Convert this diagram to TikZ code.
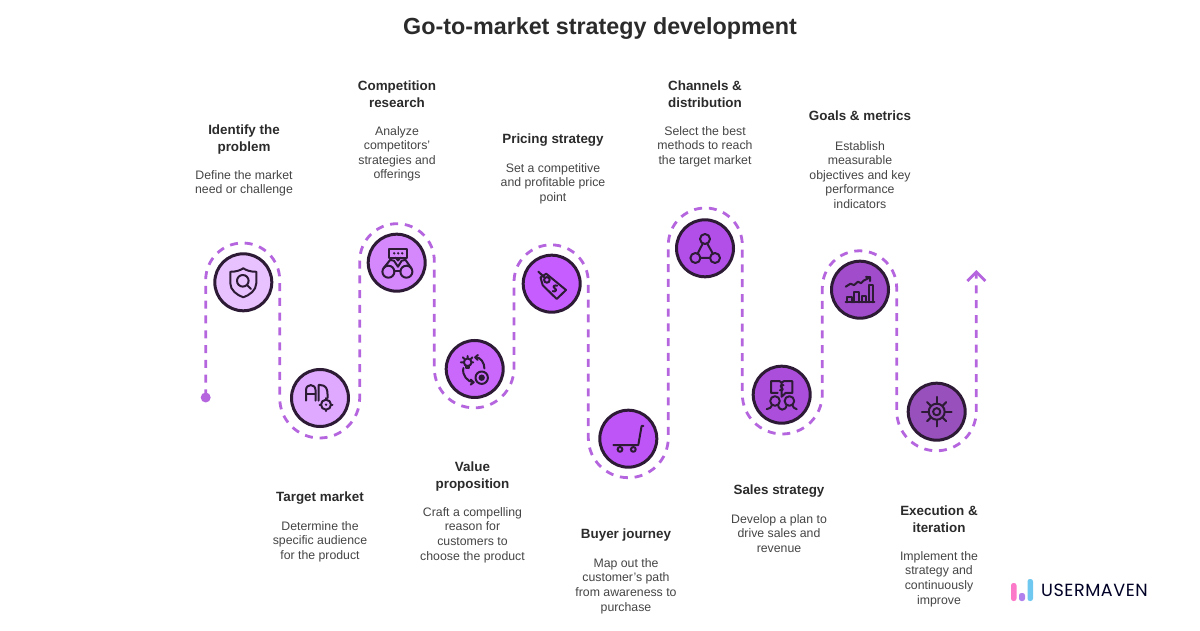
\documentclass[tikz,border=0pt]{standalone}
\usepackage{fontspec}
\setmainfont{Liberation Sans}
\newfontfamily\logofont[LetterSpace=3]{Poppins}
\definecolor{ink}{HTML}{2D1B36}
\definecolor{pathc}{HTML}{B566DE}
\definecolor{headc}{HTML}{2B2B2B}
\definecolor{bodyc}{HTML}{454545}
\definecolor{fa}{HTML}{E8C2FF}
\definecolor{fb}{HTML}{DEA9FF}
\definecolor{fc}{HTML}{D488FC}
\definecolor{fd}{HTML}{C968FB}
\definecolor{fe}{HTML}{C65EFF}
\definecolor{ff}{HTML}{BE55F6}
\definecolor{fg}{HTML}{B24FE8}
\definecolor{fh}{HTML}{AB4EDC}
\definecolor{fi}{HTML}{A04CCB}
\definecolor{fj}{HTML}{9850BC}
\tikzset{
  stop/.style={circle,draw=ink,line width=3pt,minimum size=57pt,inner sep=0pt},
  route/.style={draw=pathc,line width=2.8pt,dash pattern=on 8pt off 6.8pt},
  ic/.style={draw=ink,line width=2pt,line cap=round,line join=round},
  headt/.style={anchor=north,inner sep=0pt,align=center,text=headc,font=\fontsize{13.4}{17}\selectfont\bfseries},
  bodyt/.style={anchor=north,inner sep=0pt,align=center,text=bodyc,font=\fontsize{12.3}{14.6}\selectfont},
}
\newcommand\steptext[6]{%
  \node[headt] (h#1) at (#2pt,{(630-#3+11)*1pt}) {\rule{0pt}{11pt}#4};
  \node[bodyt] (b#1) at (#2pt,{(630-#5+11)*1pt}) {\rule{0pt}{11pt}#6};
}
\begin{document}
\begin{tikzpicture}[x=1pt,y=1pt]
\useasboundingbox (0,0) rectangle (1200,630);
\fill[white] (0,0) rectangle (1200,630);

\node[inner sep=0pt,text=headc,font=\fontsize{23.3}{28}\selectfont\bfseries] (title) at (600,601) {Go-to-market strategy development};

% route
\node[circle,fill=pathc,minimum size=10pt,inner sep=0pt] (start) at (205.7,232.5) {};
\coordinate (tip) at (976.3,358);
\draw[route] (start.center) -- (205.7,350) arc[start angle=180,end angle=0,radius=37pt]
  -- (279.7,232) arc[start angle=180,end angle=360,radius=40pt]
  -- (359.7,369) arc[start angle=180,end angle=0,radius=37.3pt]
  -- (434.3,262) arc[start angle=180,end angle=360,radius=39.85pt]
  -- (514,348) arc[start angle=180,end angle=0,radius=37.15pt]
  -- (588.3,192.3) arc[start angle=180,end angle=360,radius=40pt]
  -- (668.3,385) arc[start angle=180,end angle=0,radius=37pt]
  -- (742.3,236) arc[start angle=180,end angle=360,radius=40pt]
  -- (822.3,342) arc[start angle=180,end angle=0,radius=37.2pt]
  -- (896.7,219) arc[start angle=180,end angle=360,radius=39.8pt]
  -- (tip);
\coordinate (tipl) at (967.3,349);
\coordinate (tipr) at (985.3,349);
\draw[draw=pathc,line width=2.8pt] (tipl) -- (tip) -- (tipr);

% stops
\node[stop,fill=fa] (c1) at (243.3,347.7) {};
\node[stop,fill=fb] (c2) at (320,232) {};
\node[stop,fill=fc] (c3) at (396.7,367.3) {};
\node[stop,fill=fd] (c4) at (474.7,261) {};
\node[stop,fill=fe] (c5) at (551.7,346.3) {};
\node[stop,fill=ff] (c6) at (628.3,191.3) {};
\node[stop,fill=fg] (c7) at (705,381.7) {};
\node[stop,fill=fh] (c8) at (781.7,235.3) {};
\node[stop,fill=fi] (c9) at (860,340.3) {};
\node[stop,fill=fj] (c10) at (936.7,218.3) {};

% icon 1: shield and magnifier
\begin{scope}[shift={(c1.center)}]
\draw[ic] (-13,10.5) .. controls (-7,10.5) and (-3,12) .. (0,14) .. controls (3,12) and (7,10.5) .. (13,10.5)
  -- (13,-1) .. controls (13,-8) and (6,-13) .. (0,-15) .. controls (-6,-13) and (-13,-8) .. (-13,-1) -- cycle;
\draw[ic] (-0.5,1.5) circle[radius=5.8pt];
\draw[ic] (3.6,-2.6) -- (7.5,-6.5);
\end{scope}

% icon 2: AD and target
\begin{scope}[shift={(c2.center)}]
\draw[ic] (-14,-2.7) -- (-14,8) .. controls (-14,14.5) and (-4.5,14.5) .. (-4.5,8) -- (-4.5,-2.7);
\draw[ic] (-14,3.5) -- (-4.5,3.5);
\draw[ic] (-1.5,-2.7) -- (-1.5,13) -- (0,13) .. controls (6,13) and (7.5,9) .. (7.5,4) -- (7.5,0);
\draw[ic] (6,-6.7) circle[radius=5pt];
\draw[ic] (6,-0.2) -- (6,-1.7) (6,-13.2) -- (6,-11.7) (-0.5,-6.7) -- (1,-6.7) (12.5,-6.7) -- (11,-6.7);
\fill[ink] (6,-6.7) circle[radius=1.3pt];
\end{scope}

% icon 3: binoculars and speech box
\begin{scope}[shift={(c3.center)}]
\draw[ic] (-7.7,13.7) rectangle (10.7,5);
\fill[ink] (-2.5,9.4) circle[radius=1.3pt] (1.5,9.4) circle[radius=1.3pt] (5.5,9.4) circle[radius=1.3pt];
\draw[ic] (-1,5) -- (1.3,2.2) -- (3.6,5);
\draw[ic] (-8.3,-9) circle[radius=6pt];
\draw[ic] (9.7,-9) circle[radius=6pt];
\draw[ic] (-13.4,-5.8) -- (-6.5,2.8) -- (-2.8,2) -- (1.3,-4) -- (5,2) -- (8.8,2.8) -- (14.8,-5.8);
\draw[ic] (-2.5,-8.5) -- (3.9,-8.5);
\end{scope}

% icon 4: bulb, cycle, coin
\begin{scope}[shift={(c4.center)}]
\draw[ic] (-7,6.7) circle[radius=3.8pt];
\draw[ic] (-8.5,3) -- (-8.5,1) -- (-5.5,1) -- (-5.5,3);
\draw[ic] (-7,11.2) -- (-7,13) (-11.5,6.7) -- (-13.8,6.7) (-10.2,10) -- (-11.8,11.6) (-3.8,10) -- (-2.4,11.6) (-2.5,6.7) -- (-1.5,6.7);
\draw[ic] (0.8,11.7) .. controls (6,12) and (9.8,6) .. (9.7,0.5);
\draw[ic] (3.2,14) -- (0.5,11.7) -- (3,9.2);
\draw[ic] (-11.3,1) .. controls (-13,-6) and (-7,-13) .. (-1.3,-13.3);
\draw[ic] (-4,-10.6) -- (-1,-13.3) -- (-4,-15.6);
\draw[ic] (7,-8.7) circle[radius=6.2pt];
\fill[ink] (7,-8.7) circle[radius=3.2pt];
\end{scope}

% icon 5: price tag
\begin{scope}[shift={(c5.center)}]
\draw[ic] (-11.2,6.2) -- (-5.5,10) -- (14.3,-6.3) -- (5,-15.3) -- (-9,-1.5)  -- cycle;
\draw[ic] (-4.8,3.8) circle[radius=2.8pt];
\draw[ic] (-13.3,12) -- (-6.5,5.6);
\draw[ic] (5.5,-2) .. controls (2.5,-1) and (0.5,-3) .. (3,-4.6) .. controls (5.5,-6) and (4,-8.5) .. (1,-7.5);
\end{scope}

% icon 6: cart
\begin{scope}[shift={(c6.center)}]
\draw[ic] (15,12.7) -- (13.3,12.7) -- (10,-6.3) -- (-15,-6.3);
\draw[ic] (-8.3,-10.7) circle[radius=2.4pt];
\draw[ic] (5,-10.7) circle[radius=2.4pt];
\end{scope}

% icon 7: network
\begin{scope}[shift={(c7.center)}]
\draw[ic] (0,9.3) circle[radius=5pt];
\draw[ic] (-9.6,-9.7) circle[radius=5pt];
\draw[ic] (10,-9.7) circle[radius=5pt];
\draw[ic] (-2.2,4.8) -- (-7.4,-5.2) (2.2,4.8) -- (7.8,-5.2) (-4.6,-9.7) -- (5,-9.7);
\end{scope}

% icon 8: book and people
\begin{scope}[shift={(c8.center)}]
\draw[ic] (-4,1.8) -- (-10.7,1.8) -- (-10.7,13.5) -- (-2,13.5) -- (0,12) -- (2,13.5) -- (10.7,13.5) -- (10.7,1.8) -- (4,1.8) -- (0,-2) -- (0,12);
\draw[ic] (1.8,9.5) .. controls (-1.5,10.5) and (-2,7.5) .. (0,7) .. controls (2,6.5) and (1.5,3.5) .. (-1.8,4.5);
\draw[ic] (-6.7,-6.3) circle[radius=4.8pt];
\draw[ic] (7.7,-6.3) circle[radius=4.8pt];
\draw[ic] (-15,-14.5) .. controls (-12,-13.5) and (-10,-13) .. (-9.5,-10.2);
\draw[ic] (-3.8,-10.2) .. controls (-3,-13.5) and (-1,-15) .. (0.5,-15) .. controls (2.5,-15) and (4.5,-13.5) .. (5,-10.2);
\draw[ic] (10.5,-10.2) .. controls (11,-13) and (13,-13.5) .. (15,-14.5);
\end{scope}

% icon 9: chart
\begin{scope}[shift={(c9.center)}]
\draw[ic] (-14.3,-12.7) -- (14.3,-12.7);
\draw[ic] (-13,-12.7) -- (-13,-7.7) -- (-8.3,-7.7) -- (-8.3,-12.7);
\draw[ic] (-6,-12.7) -- (-6,-2) -- (-0.7,-2) -- (-0.7,-12.7);
\draw[ic] (1.7,-12.7) -- (1.7,-6.3) -- (6,-6.3) -- (6,-12.7);
\draw[ic] (9.3,-12.7) -- (9.3,4.7) -- (13.3,4.7) -- (13.3,-12.7);
\draw[ic] (-14.3,3) -- (-9.5,6) -- (-6,4.6) -- (-2,8) -- (1,6.5) -- (3.5,9) -- (10,12.3);
\draw[ic] (6,12.8) -- (10.2,12.5) -- (10,8.5);
\end{scope}

% icon 10: gear
\begin{scope}[shift={(c10.center)}]
\draw[ic] (0,0) circle[radius=8pt];
\draw[ic] (0,0) circle[radius=3.6pt];
\foreach \a in {0,90,180,270}{\draw[ic] (\a:8) -- (\a:14.8);}
\foreach \a in {45,135,225,315}{\draw[ic] (\a:8) -- (\a:13.5);}
\end{scope}

% texts
\steptext{1}{244}{134}{Identify the\\problem}{179}{Define the market\\need or challenge}
\steptext{2}{320}{501}{Target market}{530}{Determine the\\specific audience\\for the product}
\steptext{3}{397}{90}{Competition\\research}{135}{Analyze\\competitors'\\strategies and\\offerings}
\steptext{4}{472.5}{471}{Value\\proposition}{516}{Craft a compelling\\reason for\\customers to\\choose the product}
\steptext{5}{553}{143}{Pricing strategy}{172}{Set a competitive\\and profitable price\\point}
\steptext{6}{626}{538}{Buyer journey}{567}{Map out the\\customer's path\\from awareness to\\purchase}
\steptext{7}{705}{90}{Channels \&\\distribution}{135}{Select the best\\methods to reach\\the target market}
\steptext{8}{779}{494}{Sales strategy}{523}{Develop a plan to\\drive sales and\\revenue}
\steptext{9}{860}{120.5}{Goals \& metrics}{150}{Establish\\measurable\\objectives and key\\performance\\indicators}
\steptext{10}{939}{515}{Execution \&\\iteration}{560}{Implement the\\strategy and\\continuously\\improve}

% logo
\fill[color={rgb,255:red,252;green,120;blue,200},rounded corners=2.4pt] (1011,29) rectangle (1016.5,47);
\fill[color={rgb,255:red,176;green,128;blue,236},rounded corners=2.4pt] (1019,29) rectangle (1025,37);
\fill[color={rgb,255:red,110;green,200;blue,240},rounded corners=2.4pt] (1027.5,29) rectangle (1033,51);
\node[anchor=base west,inner sep=0pt,text=black!85!blue,font=\logofont\fontsize{17.6}{20}\selectfont] (logo) at (1041,34) {USERMAVEN};
\end{tikzpicture}
\end{document}
